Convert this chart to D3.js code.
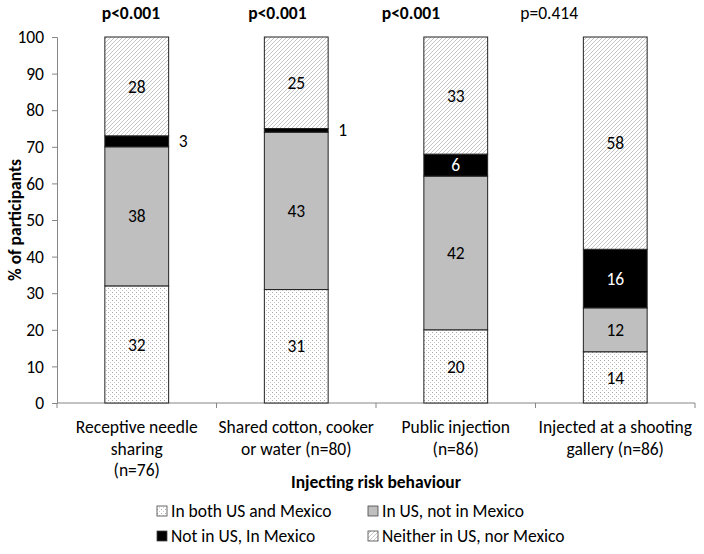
<!DOCTYPE html>
<html>
<head>
<meta charset="utf-8">
<script src="https://cdn.jsdelivr.net/npm/d3@7"></script>
<style>
  body { margin: 0; background: #fff; }
  text { font-family: Carlito, Calibri, Lato, "Open Sans", sans-serif; fill: #000; }
</style>
</head>
<body>
<div id="chart"></div>
<script>
'use strict';

// chart data
var categories = [
  ['Receptive needle', 'sharing', '(n=76)'],
  ['Shared cotton, cooker', 'or water (n=80)'],
  ['Public injection', '(n=86)'],
  ['Injected at a shooting', 'gallery (n=86)']
];
var pvalues = ['p<0.001', 'p<0.001', 'p<0.001', 'p=0.414'];
var pBold = [true, true, true, false];
var seriesNames = ['In both US and Mexico', 'In US, not in Mexico', 'Not in US, In Mexico', 'Neither in US, nor Mexico'];
var bothUSMexico = [32, 31, 20, 14];
var usNotMexico = [38, 43, 42, 12];
var notUSMexico = [3, 1, 6, 16];
var neither = [28, 25, 33, 58];
var yTicks = [0, 10, 20, 30, 40, 50, 60, 70, 80, 90, 100];

var width = 704, height = 554;
var margin = {left: 57, right: 9, top: 37, bottom: 151};
var fs = '17.5px';

var svg = d3.select('#chart').append('svg')
  .attr('width', width)
  .attr('height', height);

var defs = svg.append('defs');

// dotted fill
var dots = defs.append('pattern')
  .attr('id', 'dots')
  .attr('patternUnits', 'userSpaceOnUse')
  .attr('width', 4).attr('height', 4);
dots.append('rect').attr('width', 4).attr('height', 4).attr('fill', '#fff');
dots.append('rect').attr('x', 0).attr('y', 0).attr('width', 1).attr('height', 1).attr('fill', '#a8a8a8');
dots.append('rect').attr('x', 2).attr('y', 2).attr('width', 1).attr('height', 1).attr('fill', '#c8c8c8');

// diagonal hatch
var hatch = defs.append('pattern')
  .attr('id', 'hatch')
  .attr('patternUnits', 'userSpaceOnUse')
  .attr('width', 4).attr('height', 4);
hatch.append('rect').attr('width', 4).attr('height', 4).attr('fill', '#fff');
hatch.append('path')
  .attr('d', 'M-1,1 l2,-2 M0,4 l4,-4 M3,5 l2,-2')
  .attr('stroke', '#ababab')
  .attr('stroke-width', 0.7);

var fills = ['url(#dots)', '#bfbfbf', '#000', 'url(#hatch)'];
var labelColors = ['#000', '#000', '#fff', '#000'];

var x = d3.scaleBand()
  .domain(d3.range(categories.length))
  .range([margin.left, width - margin.right])
  .paddingInner(0.6)
  .paddingOuter(0.3);

var x0 = d3.scaleLinear()
  .domain([0, categories.length])
  .range([margin.left, width - margin.right]);

var y = d3.scaleLinear()
  .domain([0, 100])
  .range([height - margin.bottom, margin.top])
  .clamp(true);

var table = categories.map(function(c, i) {
  return {
    idx: i,
    s0: bothUSMexico[i],
    s1: usNotMexico[i],
    s2: notUSMexico[i],
    s3: neither[i]
  };
});

var stack = d3.stack().keys(['s0', 's1', 's2', 's3']);
var layers = stack(table);

// y axis
var yAxis = svg.append('g')
  .attr('transform', 'translate(' + margin.left + ',0)')
  .call(d3.axisLeft(y).tickValues(yTicks).tickSize(5).tickPadding(8));
yAxis.select('.domain').attr('stroke', '#868686');
yAxis.selectAll('.tick line').attr('stroke', '#868686');
yAxis.selectAll('.tick text').style('font-size', fs);

// x axis
var xAxis = svg.append('g')
  .attr('transform', 'translate(0,' + y(0) + ')');
xAxis.append('line')
  .attr('x1', x0(0)).attr('x2', x0(categories.length))
  .attr('stroke', '#868686');
xAxis.selectAll('line.tk')
  .data(d3.range(categories.length + 1))
  .enter().append('line')
  .attr('class', 'tk')
  .attr('x1', x0).attr('x2', x0)
  .attr('y1', 0).attr('y2', 5)
  .attr('stroke', '#868686');

// bars
var groups = svg.selectAll('g.layer')
  .data(layers)
  .enter().append('g')
  .attr('class', 'layer');

groups.selectAll('rect')
  .data(function(d) { return d.map(function(p) { return {p: p, key: d.index}; }); })
  .enter().append('rect')
  .attr('x', function(d) { return x(d.p.data.idx); })
  .attr('width', x.bandwidth())
  .attr('y', function(d) { return y(d.p[1]); })
  .attr('height', function(d) { return y(d.p[0]) - y(d.p[1]); })
  .attr('fill', function(d) { return fills[d.key]; })
  .attr('stroke', '#222')
  .attr('stroke-width', 1);

// segment labels
groups.selectAll('text')
  .data(function(d) { return d.map(function(p) { return {p: p, key: d.index}; }); })
  .enter().append('text')
  .attr('x', function(d) {
    var v = d.p[1] - d.p[0];
    if (v < 5) return x(d.p.data.idx) + x.bandwidth() + 10;
    return x(d.p.data.idx) + x.bandwidth() / 2;
  })
  .attr('y', function(d) { return (y(d.p[0]) + y(Math.min(d.p[1], 100))) / 2; })
  .attr('dy', '0.35em')
  .attr('text-anchor', function(d) { return (d.p[1] - d.p[0]) < 5 ? 'start' : 'middle'; })
  .style('font-size', fs)
  .style('fill', function(d) { return (d.p[1] - d.p[0]) < 5 ? '#000' : labelColors[d.key]; })
  .text(function(d) { return d.p.data['s' + d.key]; });

// p-values (placed like the hand-positioned text boxes)
var pOffset = [-35, -48, -74, -95];
svg.selectAll('text.pval')
  .data(pvalues)
  .enter().append('text')
  .attr('class', 'pval')
  .attr('x', function(d, i) { return x(i) + x.bandwidth() / 2 + pOffset[i]; })
  .attr('y', 19)
  .style('font-size', fs)
  .style('font-weight', function(d, i) { return pBold[i] ? 'bold' : 'normal'; })
  .text(function(d) { return d; });

// category labels
svg.selectAll('text.cat')
  .data(categories)
  .enter().append('text')
  .attr('class', 'cat')
  .attr('text-anchor', 'middle')
  .attr('x', function(d, i) { return x(i) + x.bandwidth() / 2; })
  .attr('y', 433)
  .style('font-size', fs)
  .each(function(d) {
    var t = d3.select(this);
    d.forEach(function(line, j) {
      t.append('tspan')
        .attr('x', t.attr('x'))
        .attr('dy', j === 0 ? 0 : 21.5)
        .text(line);
    });
  });

// axis titles
svg.append('text')
  .attr('text-anchor', 'middle')
  .attr('x', (margin.left + width - margin.right) / 2)
  .attr('y', 488)
  .style('font-size', fs)
  .style('font-weight', 'bold')
  .text('Injecting risk behaviour');

svg.append('text')
  .attr('text-anchor', 'middle')
  .attr('transform', 'translate(21,' + y(50) + ') rotate(-90)')
  .style('font-size', fs)
  .style('font-weight', 'bold')
  .text('% of participants');

// legend
var legendX = [157, 368];
var legendY = [517, 542];
var legend = svg.selectAll('g.legend')
  .data(seriesNames)
  .enter().append('g')
  .attr('class', 'legend')
  .attr('transform', function(d, i) {
    return 'translate(' + legendX[i % 2] + ',' + legendY[Math.floor(i / 2)] + ')';
  });
legend.append('rect')
  .attr('x', 0).attr('y', -11)
  .attr('width', 10).attr('height', 10)
  .attr('fill', function(d, i) { return fills[i]; })
  .attr('stroke', '#444')
  .attr('stroke-width', 0.8);
legend.append('text')
  .attr('x', 14)
  .attr('y', 0)
  .style('font-size', fs)
  .text(function(d) { return d; });
</script>
</body>
</html>
